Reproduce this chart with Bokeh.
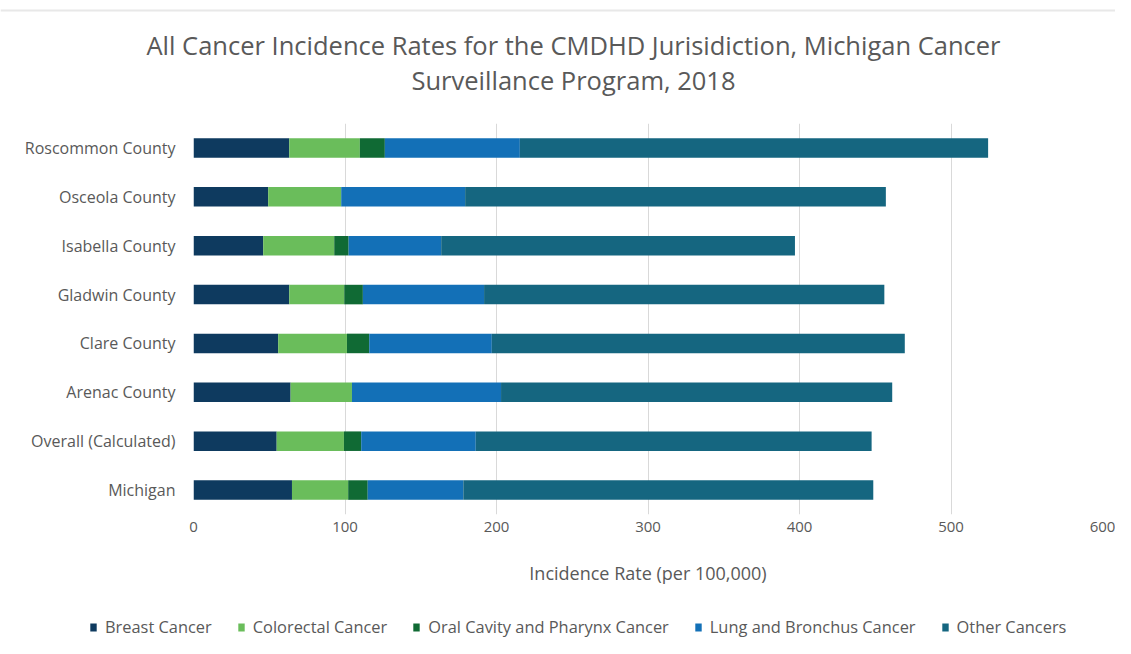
from bokeh.plotting import figure
from bokeh.layouts import column
from bokeh.models import (ColumnDataSource, FactorRange, Range1d, Label, Legend,
                          LegendItem, FixedTicker, Span)
from bokeh.embed import file_html
from bokeh.resources import INLINE

# ---- data ----
counties = ["Roscommon County", "Osceola County", "Isabella County", "Gladwin County",
            "Clare County", "Arenac County", "Overall (Calculated)", "Michigan"]
breast = [63.2, 49.3, 46.0, 63.2, 55.9, 64.1, 54.9, 65.0]
colorectal = [46.6, 48.2, 46.9, 36.3, 45.4, 40.5, 44.4, 37.1]
oral = [16.5, 0.0, 9.5, 12.3, 14.7, 0.0, 11.4, 12.9]
lung = [89.1, 81.8, 61.1, 80.0, 80.9, 98.4, 75.6, 63.1]
other = [309.1, 277.7, 233.5, 264.2, 272.6, 258.2, 261.3, 270.6]

series_names = ["Breast Cancer", "Colorectal Cancer", "Oral Cavity and Pharynx Cancer",
                "Lung and Bronchus Cancer", "Other Cancers"]
x_ticks = [0, 100, 200, 300, 400, 500, 600]
title_lines = ["All Cancer Incidence Rates for the CMDHD Jurisidiction, Michigan Cancer",
               "Surveillance Program, 2018"]

colors = ["#0E3A5F", "#6ABD5B", "#106A34", "#1370B7", "#156680"]
TEXT = "#595959"
FONT = "Open Sans"
W = 1115

# ---------------- title strip ----------------
TH = 110
tp = figure(width=W, height=TH, output_backend="svg", toolbar_location=None,
            x_range=Range1d(0, W), y_range=Range1d(0, TH), x_axis_type=None,
            y_axis_type=None, min_border=0)
tp.outline_line_color = None
tp.grid.visible = False
tp.add_layout(Span(location=TH - 10, dimension="width", line_color="#e8e8e8", line_width=2))
for txt, yy in zip(title_lines, [TH - 44, TH - 79]):
    tp.add_layout(Label(x=573, y=yy, text=txt, text_align="center", text_baseline="middle",
                        text_font=FONT, text_font_size="25.5px", text_color=TEXT))

# ---------------- main chart ----------------
keys = ["breast", "colorectal", "oral", "lung", "other"]
source = ColumnDataSource(dict(county=counties, breast=breast, colorectal=colorectal,
                               oral=oral, lung=lung, other=other))

MH = 482
p = figure(width=W, height=MH, output_backend="svg", toolbar_location=None,
           y_range=FactorRange(*list(reversed(counties))), x_range=Range1d(0, 600),
           min_border_left=193, min_border_right=13, min_border_top=13,
           min_border_bottom=78)
p.outline_line_color = None

renderers = p.hbar_stack(keys, y="county", height=0.4, color=colors, line_color=None,
                         source=source)

p.xaxis.ticker = FixedTicker(ticks=x_ticks)
p.xaxis.axis_line_color = None
p.xaxis.major_tick_line_color = None
p.xaxis.minor_tick_line_color = None
p.xaxis.major_tick_out = 0
p.xaxis.major_tick_in = 0
p.xaxis.major_label_text_font = FONT
p.xaxis.major_label_text_font_size = "15px"
p.xaxis.major_label_text_color = TEXT
p.xaxis.major_label_standoff = 7
p.xaxis.axis_label = "Incidence Rate (per 100,000)"
p.xaxis.axis_label_text_font = FONT
p.xaxis.axis_label_text_font_size = "18px"
p.xaxis.axis_label_text_font_style = "normal"
p.xaxis.axis_label_text_color = TEXT
p.xaxis.axis_label_standoff = 26

p.yaxis.axis_line_color = None
p.yaxis.major_tick_line_color = None
p.yaxis.minor_tick_line_color = None
p.yaxis.major_tick_out = 0
p.yaxis.major_tick_in = 0
p.yaxis.major_label_text_font = FONT
p.yaxis.major_label_text_font_size = "16px"
p.yaxis.major_label_text_color = TEXT
p.yaxis.major_label_standoff = 18

p.xgrid.grid_line_color = "#d9d9d9"
p.ygrid.grid_line_color = None

# ---------------- legend strip ----------------
LH = 638 - TH - MH
lp = figure(width=W, height=LH, output_backend="svg", toolbar_location=None,
            x_range=Range1d(0, 1), y_range=Range1d(0, 1), x_axis_type=None,
            y_axis_type=None, min_border=0)
lp.outline_line_color = None
lp.grid.visible = False
items = []
for n, c in zip(series_names, colors):
    # zero-size placeholder bar; only its legend swatch is shown
    r = lp.hbar(y=[0.5], left=[0], right=[0], height=0, color=c, line_color=None)
    items.append(LegendItem(label=n, renderers=[r]))
legend = Legend(items=items, orientation="horizontal", location=(89, 0), padding=0, margin=0,
                spacing=25, label_standoff=8, glyph_width=8, glyph_height=10,
                label_text_font=FONT, label_text_font_size="16.4px", label_text_color=TEXT,
                border_line_color=None, background_fill_alpha=0)
lp.add_layout(legend)

layout = column(column(tp), p, column(lp), spacing=0)
open("out.html", "w").write(file_html(layout, INLINE))
